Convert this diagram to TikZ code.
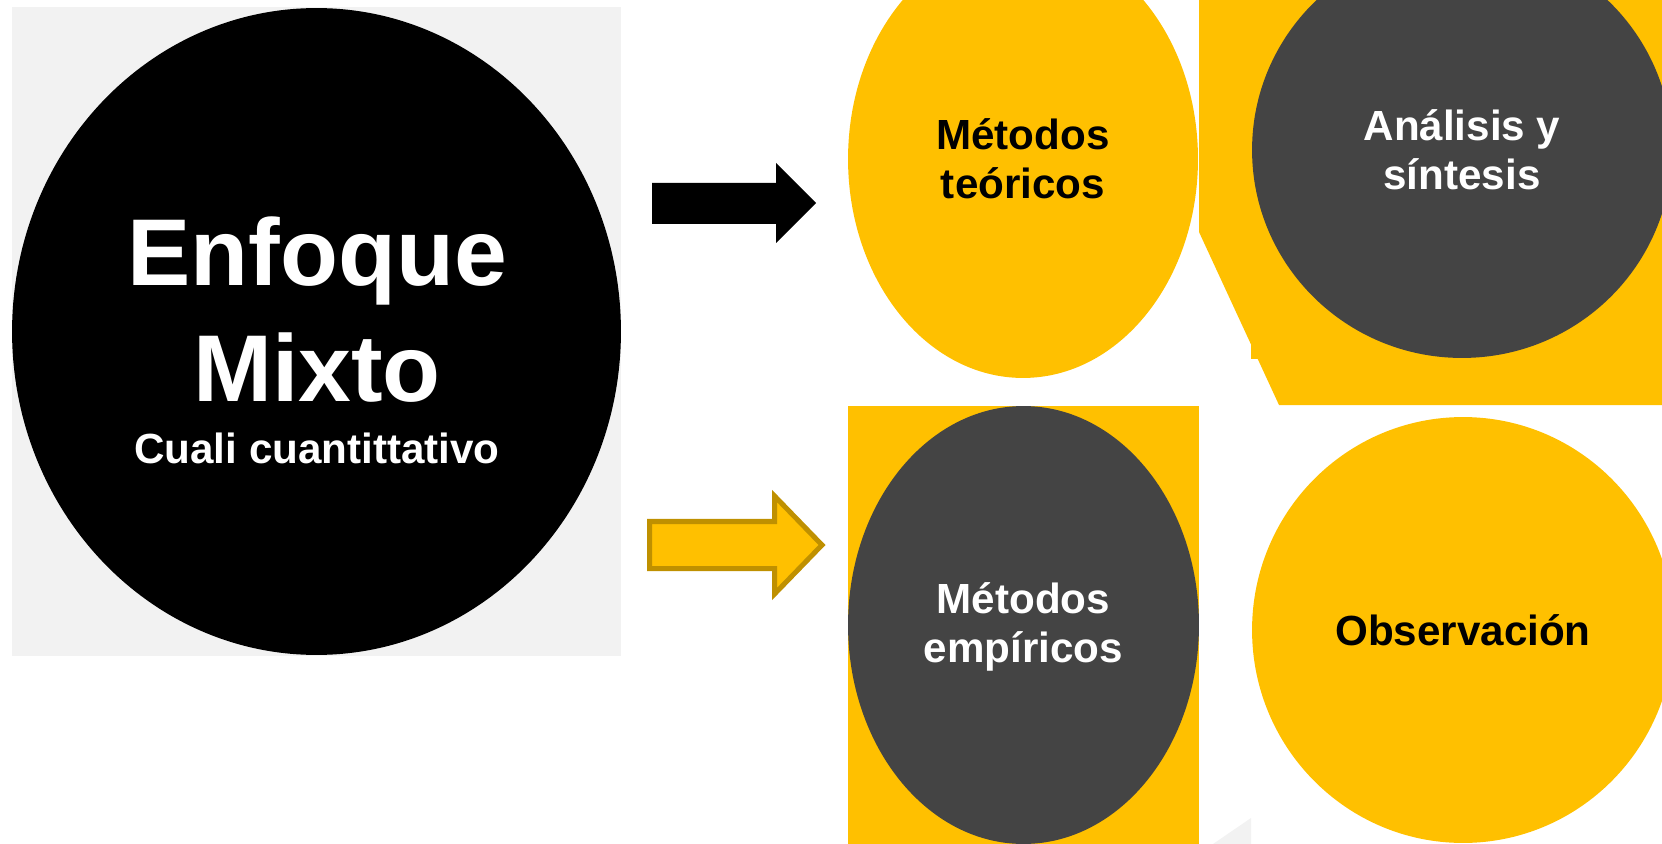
\documentclass[tikz,border=0pt]{standalone}
\usepackage{fontspec}
\setmainfont{Liberation Sans}
\usetikzlibrary{shapes}
\definecolor{amber}{HTML}{FFC000}
\definecolor{slate}{HTML}{444444}
\definecolor{paper}{HTML}{F2F2F2}
\definecolor{ochre}{HTML}{BF9000}

\begin{document}
\begin{tikzpicture}[x=0.02cm,y=-0.02cm,
  blob/.style={ellipse,inner sep=0pt,outer sep=0pt,align=center,
    font=\fontsize{24}{28}\selectfont\bfseries},
  big/.style={anchor=base,text=white,font=\fontsize{54}{60}\selectfont\bfseries}]
\clip (0,0) rectangle (1662,844);
\fill[paper] (12,7) rectangle (621,656);
\node (mixto) [blob,fill=black,minimum width=12.18cm,minimum height=12.94cm] at (316.5,331.5) {};
\node (enf) [big] at (317,286) {Enfoque};
\node (mix) [big] at (317,401) {Mixto};
\node (cc) [anchor=base,text=white,font=\fontsize{24}{28}\selectfont\bfseries] at (317,463) {Cuali cuantittativo};
% flechas
\fill (652,183) -- (776,183) -- (776,163) -- (816,203) -- (776,243) -- (776,224) -- (652,224) -- cycle;
\filldraw[fill=amber,draw=ochre,line width=2.85pt] (649.5,521.5) -- (774.5,521.5) -- (774.5,496) -- (822,545) -- (774.5,594) -- (774.5,568.5) -- (649.5,568.5) -- cycle;
% arriba
\node (teo) [blob,fill=amber,minimum width=7cm,minimum height=8.76cm] at (1023,159) {Métodos\\teóricos};
\fill[amber] (1199,-5) -- (1199,232) -- (1279,405) -- (1670,405) -- (1670,-5) -- cycle;
\fill[amber] (1251,343) rectangle (1262,359);
\node (ays) [blob,fill=slate,text=white,minimum width=8.4cm,minimum height=8.32cm] at (1462,150) {Análisis y\\síntesis};
% abajo
\fill[amber] (848,406) rectangle (1199,850);
\node (emp) [blob,fill=slate,text=white,minimum width=7.02cm,minimum height=8.76cm] at (1023.5,625) {\\[-8pt]Métodos\\empíricos};
\fill[paper] (1213,844) -- (1251,818) -- (1251,844) -- cycle;
\node (obs) [blob,fill=amber,minimum width=8.44cm,minimum height=8.52cm] at (1463,630) {Observación};
\end{tikzpicture}
\end{document}
